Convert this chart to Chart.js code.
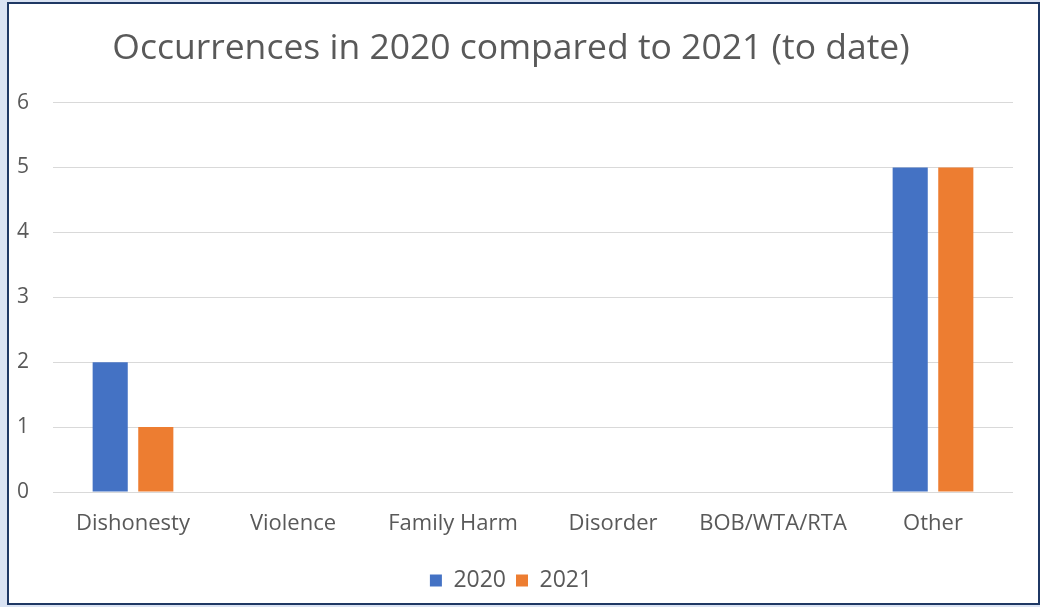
<!DOCTYPE html>
<html>
<head>
<meta charset="utf-8">
<script src="https://cdn.jsdelivr.net/npm/chart.js@4.4.0/dist/chart.umd.min.js"></script>
<style>
  html, body { margin: 0; padding: 0; background: #dae3f3; }
  #frame {
    position: absolute; left: 7px; top: 2px; width: 1029px; height: 599px;
    border: 2px solid #1f3864; background: #fff;
  }
  #wrap { position: relative; width: 1029px; height: 599px; }
</style>
</head>
<body>
<div id="frame"><div id="wrap"><canvas id="graph"></canvas></div></div>
<script>
const categories = ['Dishonesty', 'Violence', 'Family Harm', 'Disorder', 'BOB/WTA/RTA', 'Other'];
const values2020 = [2, 0, 0, 0, 0, 5];
const values2021 = [1, 0, 0, 0, 0, 5];
const yTicks = [0, 1, 2, 3, 4, 5, 6];

window.onload = function () {
  loadChart(document.querySelector("#graph"));
}

function loadChart(element) {
  const grey = '#595959';
  const font = '"Open Sans", "Liberation Sans", sans-serif';
  new Chart(element, {
    type: 'bar',
    data: {
      labels: categories,
      datasets: [{
        label: '2020',
        data: values2020,
        backgroundColor: '#4472c4'
      }, {
        label: '2021',
        data: values2021,
        backgroundColor: '#ed7d31'
      }]
    },
    options: {
      responsive: true,
      maintainAspectRatio: false,
      animation: false,
      categoryPercentage: 0.57,
      barPercentage: 0.77,
      layout: { padding: { left: 0, right: 25, top: 0, bottom: 1 } },
      plugins: {
        title: {
          display: true,
          text: 'Occurrences in 2020 compared to 2021 (to date)',
          color: grey,
          font: { family: font, size: 35.5, weight: 'normal' },
          padding: { top: 24, bottom: 32 }
        },
        legend: {
          position: 'bottom',
          labels: {
            color: grey,
            boxWidth: 12,
            boxHeight: 12,
            font: { family: font, size: 23 }
          }
        },
        tooltip: { enabled: false }
      },
      scales: {
        x: {
          grid: { display: false },
          border: { display: false },
          ticks: { color: grey, font: { family: font, size: 22 }, padding: 11, maxRotation: 0 },
          afterFit: function (scale) { scale.height = 67; }
        },
        y: {
          min: 0,
          max: yTicks[yTicks.length - 1],
          afterBuildTicks: function (scale) { scale.ticks = yTicks.map(v => ({ value: v })); },
          grid: { color: '#d9d9d9', drawTicks: false },
          border: { display: false },
          ticks: { color: grey, font: { family: font, size: 21 }, padding: 24 },
          afterFit: function (scale) { scale.width = 44; }
        }
      }
    }
  });
}
</script>
</body>
</html>
